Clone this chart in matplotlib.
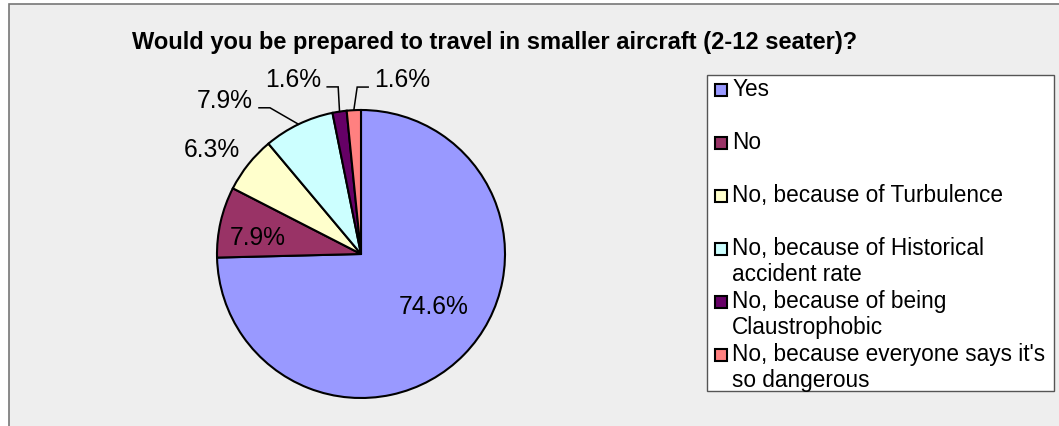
import numpy as np
import matplotlib.pyplot as plt
from matplotlib.patches import Rectangle

# survey answers (63 respondents)
answers = ["Yes", "No", "No, because of Turbulence",
           "No, because of Historical\naccident rate",
           "No, because of being\nClaustrophobic",
           "No, because everyone says it's\nso dangerous"]
counts = [47, 5, 4, 5, 1, 1]
colors = ["#9999FF", "#993366", "#FFFFCC", "#CCFFFF", "#660066", "#FF8080"]
title = "Would you be prepared to travel in smaller aircraft (2-12 seater)?"

W, H = 1059, 427
fig = plt.figure(figsize=(W / 100, H / 100), dpi=100)
fig.patch.set_facecolor("white")

# axes in pixel units, y measured upward
ax = fig.add_axes([0, 0, 1, 1])

# chart area background + border
ax.add_patch(Rectangle((9, -5), W, H, facecolor="#EEEEEE",
                       edgecolor="#777777", linewidth=1.2, zorder=0))

cx, cy, R = 361, H - 255, 144
wedges, _ = ax.pie(counts, colors=colors, startangle=90, counterclock=False,
                   center=(cx, cy), radius=R, frame=True,
                   wedgeprops=dict(edgecolor="black", linewidth=1.5))
ax.set_xlim(0, W)
ax.set_ylim(0, H)
ax.set_aspect("auto")
ax.axis("off")

total = sum(counts)
pcts = [100 * c / total for c in counts]

# label placement: (radius factor, angle shift in degrees, has leader line)
lab_pos = [(0.62, 8.5, False), (0.725, 3.5, False), (1.266, 3.4, False),
           (1.428, 15.7, True), (1.304, 12.6, True), (1.248, -16.1, True)]
fs_lab = 17.7
half_w = 28

for i, w in enumerate(wedges):
    mid = (w.theta1 + w.theta2) / 2
    rf, shift, leader = lab_pos[i]
    a = np.deg2rad(mid + shift)
    tx, ty = cx + rf * R * np.cos(a), cy + rf * R * np.sin(a)
    ax.text(tx, ty, f"{pcts[i]:.1f}%", fontsize=fs_lab, ha="center",
            va="center", family="Liberation Sans")
    if leader:
        m = np.deg2rad(mid)
        ex, ey = cx + R * np.cos(m), cy + R * np.sin(m)
        side = 1 if ex > tx else -1
        elbow_x = tx + side * (half_w + 17)
        end_x = tx + side * (half_w + 6)
        hy = ty - 8
        ax.plot([ex, elbow_x, end_x], [ey, hy, hy], color="black", lw=1.1,
                solid_joinstyle="miter")

ax.text(495, H - 43, title, fontsize=17, fontweight="bold", ha="center",
        va="center", family="Liberation Sans")

# legend box drawn by hand, entries evenly spaced as in the original
lx0, ly0, lx1, ly1 = 707, 76, 1054, 392
ax.add_patch(Rectangle((lx0, H - ly1), lx1 - lx0, ly1 - ly0, facecolor="white",
                       edgecolor="#555555", linewidth=1.0, zorder=3))
for k, (lab, col) in enumerate(zip(answers, colors)):
    yk = H - (91 + 53 * k)
    ax.add_patch(Rectangle((715, yk - 6), 12, 12, facecolor=col,
                           edgecolor="black", linewidth=1.5, zorder=4))
    ax.text(732, yk + 13, lab, fontsize=16.3, ha="left", va="top",
            linespacing=1.17, family="Liberation Sans", zorder=4)

fig.savefig("out.png", dpi=100)
